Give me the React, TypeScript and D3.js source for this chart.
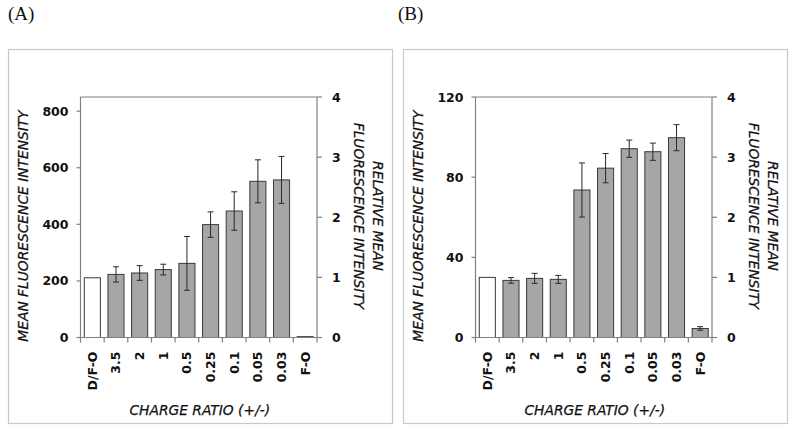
import React from "react";
import * as d3 from "d3";

const categories = ["D/F-O", "3.5", "2", "1", "0.5", "0.25", "0.1", "0.05", "0.03", "F-O"];

const valuesA = [211, 223, 228, 240, 262, 399, 447, 552, 557, 3];
const errorsA = [0, 27, 26, 19, 95, 45, 68, 76, 83, 0];
const valuesB = [30, 28.5, 29.5, 29, 73.6, 84.5, 94.2, 92.7, 99.7, 4.5];
const errorsB = [0, 1.4, 2.5, 2, 13.5, 7.3, 4.3, 4.3, 6.5, 0.9];

const leftTicksA = [0, 200, 400, 600, 800];
const leftTicksB = [0, 40, 80, 120];
const rightTicks = [0, 1, 2, 3, 4];

const leftMaxA = 850;
const leftMaxB = 120;
const rightMax = 4;

const panelLabels = ["(A)", "(B)"];
const yTitle = "MEAN FLUORESCENCE INTENSITY";
const rightTitle1 = "RELATIVE MEAN";
const rightTitle2 = "FLUORESCENCE INTENSITY";
const xTitle = "CHARGE RATIO (+/-)";

const SANS = "'DejaVu Sans', Verdana, sans-serif";
const AXIS = "#808080";
const INK = "#111111";

type PanelProps = {
  bx: number;
  label: string;
  labelX: number;
  values: number[];
  errors: number[];
  leftMax: number;
  leftTicks: number[];
};

function Panel({ bx, label, labelX, values, errors, leftMax, leftTicks }: PanelProps) {
  const boxTop = 49;
  const boxBottom = 423;
  const boxW = 384;
  const left = bx + 72.5;
  const right = bx + 309;
  const top = 97;
  const bottom = 337.5;

  const x = d3.scaleBand<string>().domain(categories).range([left, right]).paddingInner(0.32).paddingOuter(0.16);
  const y = d3.scaleLinear().domain([0, leftMax]).range([bottom, top]);
  const yR = d3.scaleLinear().domain([0, rightMax]).range([bottom, top]);
  const step = x.step();
  const bw = x.bandwidth();
  const titleCy = 226;
  const titleProps = {
    fontFamily: SANS,
    fontStyle: "italic",
    fontSize: 13.8,
    fill: INK,
    stroke: INK,
    strokeWidth: 0.25,
  };

  return (
    <g>
      <text x={labelX} y={20} fontFamily="'Liberation Serif', 'Times New Roman', serif" fontSize={19} fill={INK}>
        {label}
      </text>
      <rect x={bx + 0.5} y={boxTop + 0.5} width={boxW} height={boxBottom - boxTop} fill="white" stroke="#c8c8c8" strokeWidth={1.2} />
      {values.map((v, i) => {
        const c = categories[i];
        const x0 = x(c)!;
        const y0 = y(v);
        return (
          <rect
            key={c}
            x={x0}
            y={y0}
            width={bw}
            height={Math.max(bottom - y0, 0.8)}
            fill={i === 0 ? "#ffffff" : "#a6a6a6"}
            stroke="#3a3a3a"
            strokeWidth={1}
          />
        );
      })}
      {values.map((v, i) => {
        const e = errors[i];
        if (!e) return null;
        const cx = x(categories[i])! + bw / 2;
        const y1 = y(v + e);
        const y2 = y(v - e);
        return (
          <g key={"e" + i} stroke="#2a2a2a" strokeWidth={1}>
            <line x1={cx} x2={cx} y1={y1} y2={y2} />
            <line x1={cx - 3} x2={cx + 3} y1={y1} y2={y1} />
            <line x1={cx - 3} x2={cx + 3} y1={y2} y2={y2} />
          </g>
        );
      })}
      <g stroke={AXIS} strokeWidth={1.2} fill="none">
        <line x1={left} x2={right} y1={top} y2={top} />
        <line x1={left} x2={left} y1={top} y2={bottom} />
        <line x1={right} x2={right} y1={top} y2={bottom} />
        <line x1={left} x2={right} y1={bottom} y2={bottom} />
        {leftTicks.map((t) => (
          <line key={"lt" + t} x1={left - 4} x2={left} y1={y(t)} y2={y(t)} />
        ))}
        {rightTicks.map((t) => (
          <line key={"rt" + t} x1={right} x2={right + 5} y1={yR(t)} y2={yR(t)} />
        ))}
        {d3.range(categories.length + 1).map((k) => (
          <line key={"xt" + k} x1={left + k * step} x2={left + k * step} y1={bottom} y2={bottom + 5} />
        ))}
      </g>
      {leftTicks.map((t) => (
        <text key={"ll" + t} x={left - 12} y={y(t)} dy="0.36em" textAnchor="end" fontFamily={SANS} fontWeight="bold" fontSize={12.5} fill={INK}>
          {t}
        </text>
      ))}
      {rightTicks.map((t) => (
        <text key={"rl" + t} x={right + 15} y={yR(t)} dy="0.36em" textAnchor="start" fontFamily={SANS} fontWeight="bold" fontSize={12.5} fill={INK}>
          {t}
        </text>
      ))}
      {categories.map((c) => {
        const cx = x(c)! + bw / 2;
        return (
          <text
            key={"xl" + c}
            transform={`translate(${cx},${bottom + 14}) rotate(-90)`}
            dy="0.36em"
            textAnchor="end"
            fontFamily={SANS}
            fontWeight="bold"
            fontSize={12.5}
            fill={INK}
          >
            {c}
          </text>
        );
      })}
      <text transform={`translate(${bx + 15},${titleCy}) rotate(-90)`} dy="0.36em" textAnchor="middle" {...titleProps}>
        {yTitle}
      </text>
      <text transform={`translate(${bx + 370},${216}) rotate(90)`} dy="0.36em" textAnchor="middle" {...titleProps}>
        {rightTitle1}
      </text>
      <text transform={`translate(${bx + 351},${216}) rotate(90)`} dy="0.36em" textAnchor="middle" {...titleProps}>
        {rightTitle2}
      </text>
      <text x={(left + right) / 2 + 1} y={415} textAnchor="middle" {...titleProps}>
        {xTitle}
      </text>
    </g>
  );
}

export default function App() {
  return (
    <svg width={795} height={431} style={{ position: "absolute", left: 0, top: 0, background: "white" }}>
      <rect width={795} height={431} fill="white" />
      <Panel bx={8} label={panelLabels[0]} labelX={8} values={valuesA} errors={errorsA} leftMax={leftMaxA} leftTicks={leftTicksA} />
      <Panel bx={403} label={panelLabels[1]} labelX={398} values={valuesB} errors={errorsB} leftMax={leftMaxB} leftTicks={leftTicksB} />
    </svg>
  );
}
